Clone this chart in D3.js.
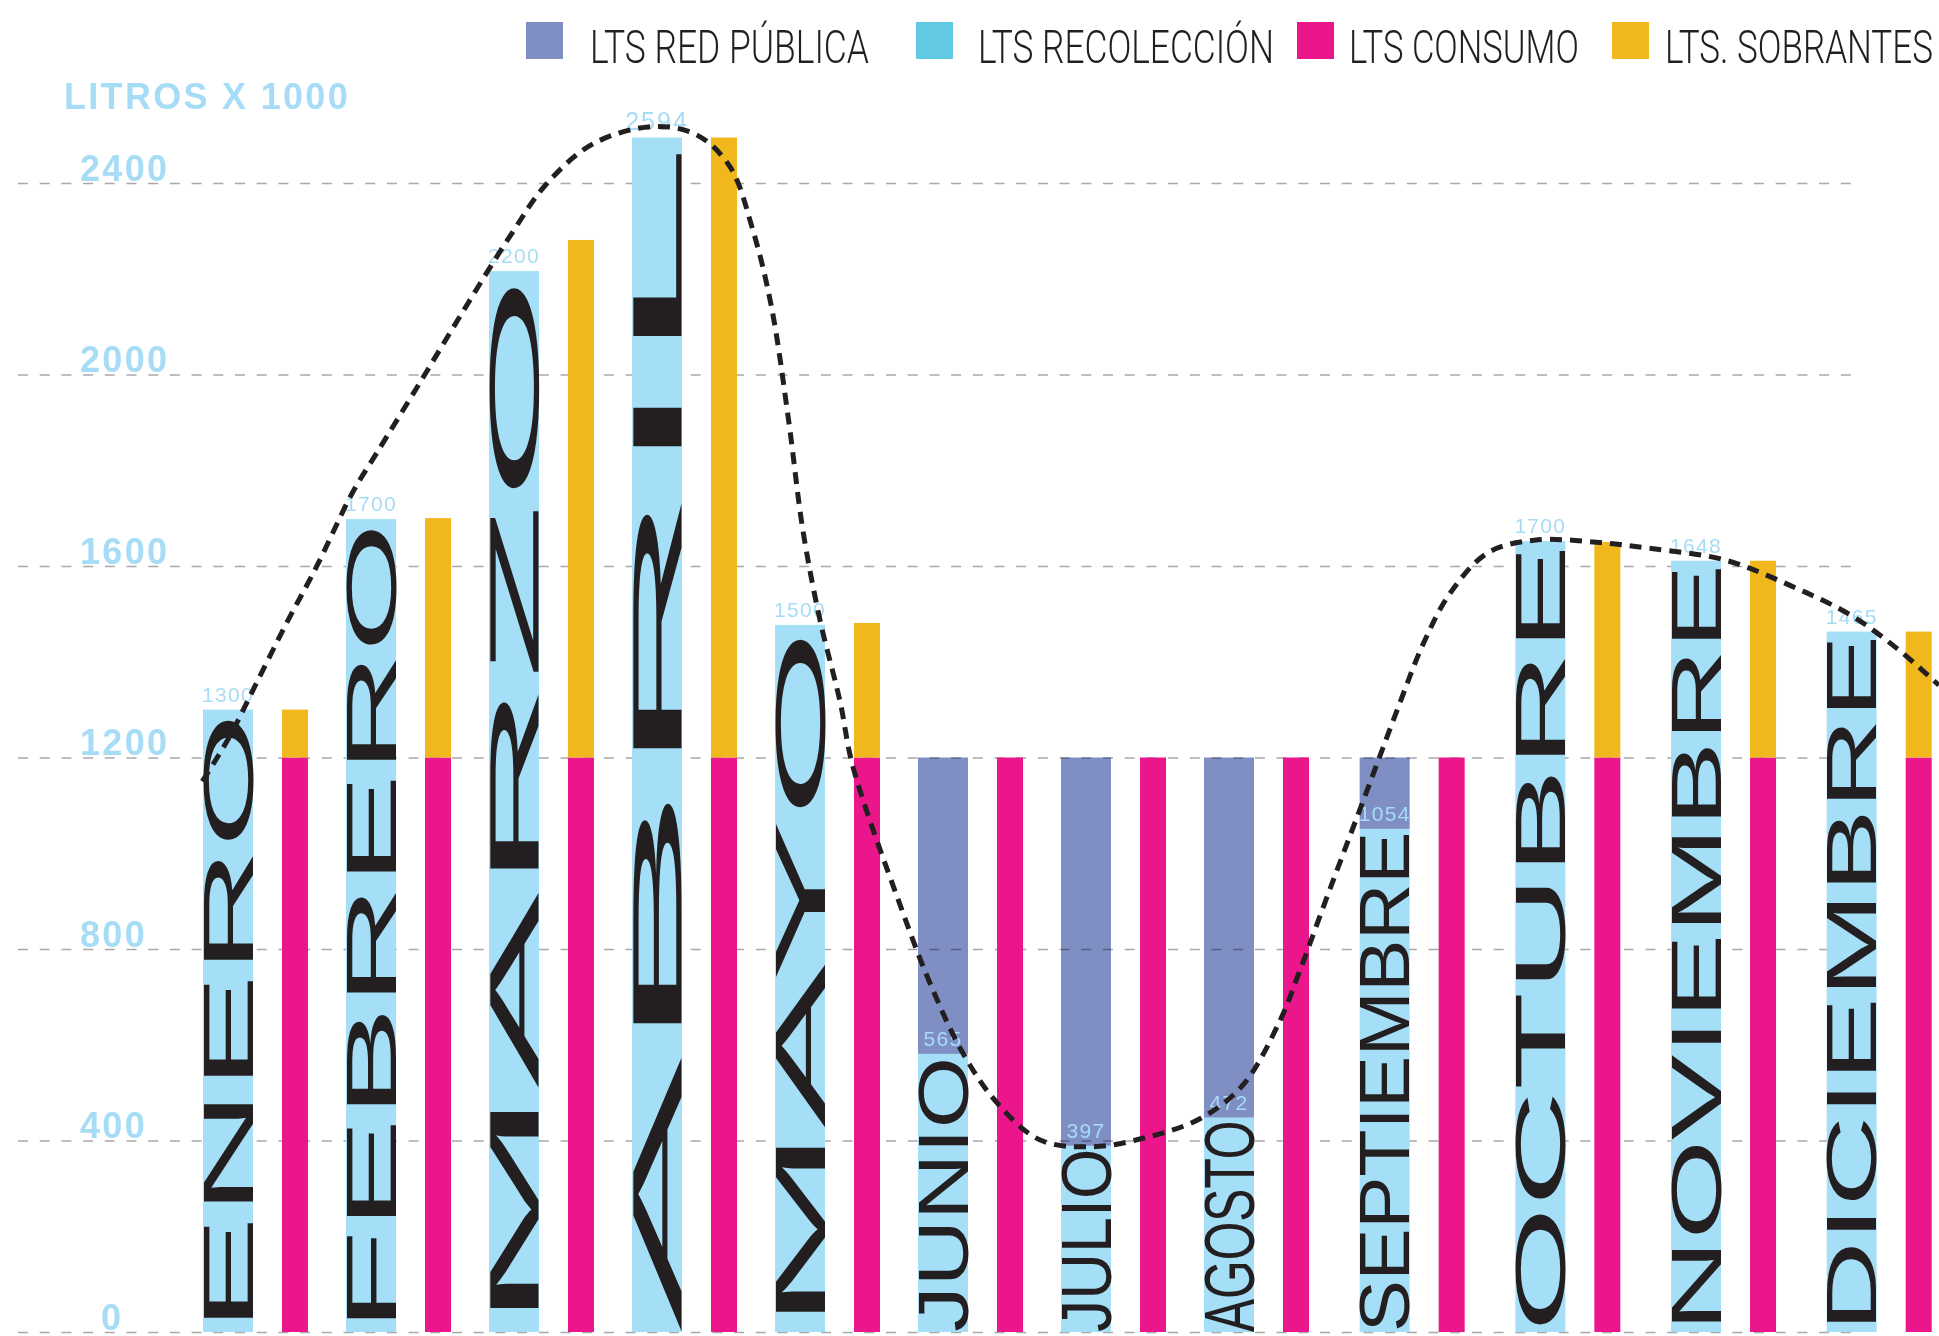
<!DOCTYPE html>
<html>
<head>
<meta charset="utf-8">
<script src="https://cdn.jsdelivr.net/npm/d3@7"></script>
<style>
  html, body { margin: 0; padding: 0; background: #ffffff; }
  svg { display: block; }
</style>
</head>
<body>
<svg id="chart" width="1939" height="1336"></svg>
<script>
// ---------------- DATA ----------------
const meses = ["ENERO","FEBRERO","MARZO","ABRIL","MAYO","JUNIO","JULIO","AGOSTO","SEPTIEMBRE","OCTUBRE","NOVIEMBRE","DICIEMBRE"];
const recoleccion = [1300, 1698, 2216, 2495, 1477, 581, 389, 448, 1051, 1652, 1611, 1463];
const redPublica  = [0, 0, 0, 0, 0, 619, 811, 752, 149, 0, 0, 0];
const consumo     = [1200, 1200, 1200, 1200, 1200, 1200, 1200, 1200, 1200, 1200, 1200, 1200];
const sobrantes   = [100, 500, 1081, 1295, 281, 0, 0, 0, 0, 450, 411, 263];
const etiquetas   = ["1300","1700","2200","2594","1500","565","397","472","1054","1700","1648","1465"];
const ticks       = [0, 400, 800, 1200, 1600, 2000, 2400];
const leyenda     = ["LTS RED PÚBLICA","LTS RECOLECCIÓN","LTS CONSUMO","LTS. SOBRANTES"];
const tituloEje   = "LITROS X 1000";
// curva de tendencia: posición (índice de mes, fraccional) y valor
const tendenciaMes = [-0.18,0.01,0.20,0.41,0.62,0.87,1.04,1.34,1.65,1.97,2.23,2.56,2.98,3.28,3.51,3.67,3.80,3.92,4.02,4.14,4.28,4.37,4.70,4.91,5.14,5.38,5.68,6.05,6.43,6.80,7.09,7.33,7.44,7.67,7.88,8.08,8.25,8.42,8.66,8.96,9.38,9.70,10.18,10.60,10.99,11.29,11.56];
const tendenciaVal = [1150,1243,1356,1481,1599,1753,1836,1982,2135,2288,2399,2483,2518,2500,2434,2302,2142,1905,1675,1487,1317,1181,892,728,582,478,401,387,407,446,516,652,742,944,1125,1299,1439,1543,1627,1654,1649,1637,1613,1560,1498,1428,1351];

// ---------------- STYLE / LAYOUT ----------------
const C = {
  azul: "#a5def7", morado: "#7f8fc3", rosa: "#ec168c", amarillo: "#f0b81c",
  cian: "#62c9e3", texto: "#231f20", etiqueta: "#a6dcf5", grid: "#a9a9a9"
};
const coloresLeyenda = [C.morado, C.cian, C.rosa, C.amarillo];
const blueW = 50, pinkOff = 79, pinkW = 26;

const svg = d3.select("#chart");
const y = d3.scaleLinear().domain([0, 2400]).range([1332, 183]);
const x = d3.scaleLinear().domain([0, 7, 11]).range([203, 1204, 1826.7]); // índice de mes -> borde izq.
const idx = meses.map((m, i) => i);

// ---------------- GRID + Y LABELS ----------------
const gGrid = svg.append("g").attr("transform", "translate(18,0)")
  .call(d3.axisRight(y).tickValues(ticks).tickSize(1844).tickFormat(d => d));
gGrid.select(".domain").remove();
gGrid.selectAll(".tick line")
  .attr("stroke", C.grid).attr("stroke-width", 1.6).attr("stroke-dasharray", "10,11.7");
gGrid.attr("font-family", "'Liberation Sans', Arial, sans-serif")
  .attr("font-size", 36).attr("font-weight", "bold");
gGrid.selectAll(".tick text")
  .attr("fill", C.etiqueta).attr("text-anchor", "start")
  .attr("x", d => d === 0 ? 83 : 62).attr("dy", null).attr("y", -3)
  .style("letter-spacing", "2.3px");

svg.append("text").text(tituloEje)
  .attr("x", 64).attr("y", 109)
  .attr("font-family", "'Liberation Sans', Arial, sans-serif")
  .attr("font-size", 36).attr("font-weight", "bold")
  .style("letter-spacing", "2.3px").attr("fill", C.etiqueta);

// ---------------- BARS ----------------
const gBars = svg.append("g");
// recolección (azul)
gBars.selectAll(".rec").data(idx).join("rect").attr("class", "rec")
  .attr("x", i => x(i)).attr("width", blueW)
  .attr("y", i => y(recoleccion[i])).attr("height", i => y(0) - y(recoleccion[i]))
  .attr("fill", C.azul);
// red pública (morado), apilada sobre recolección
gBars.selectAll(".red").data(idx.filter(i => redPublica[i] > 0)).join("rect").attr("class", "red")
  .attr("x", i => x(i)).attr("width", blueW)
  .attr("y", i => y(recoleccion[i] + redPublica[i]))
  .attr("height", i => y(recoleccion[i]) - y(recoleccion[i] + redPublica[i]))
  .attr("fill", C.morado).style("mix-blend-mode", "multiply");
// consumo (rosa)
gBars.selectAll(".con").data(idx).join("rect").attr("class", "con")
  .attr("x", i => x(i) + pinkOff).attr("width", pinkW)
  .attr("y", i => y(consumo[i])).attr("height", i => y(0) - y(consumo[i]))
  .attr("fill", C.rosa);
// sobrantes (amarillo), apilada sobre consumo
gBars.selectAll(".sob").data(idx.filter(i => sobrantes[i] > 0)).join("rect").attr("class", "sob")
  .attr("x", i => x(i) + pinkOff).attr("width", pinkW)
  .attr("y", i => y(consumo[i] + sobrantes[i]))
  .attr("height", i => y(consumo[i]) - y(consumo[i] + sobrantes[i]))
  .attr("fill", C.amarillo);

// ---------------- MONTH NAMES (stretched inside blue bars) ----------------
svg.append("g").selectAll("text").data(idx).join("text")
  .attr("transform", i => `translate(${x(i) + blueW - 0.5},${y(0)}) rotate(-90)`)
  .attr("x", 0).attr("y", 0)
  .attr("textLength", i => y(0) - y(recoleccion[i]) - 3)
  .attr("lengthAdjust", "spacingAndGlyphs")
  .attr("font-family", "'Liberation Sans', Arial, Helvetica, sans-serif")
  .attr("font-size", 70).attr("fill", C.texto)
  .text(i => meses[i]);

// ---------------- VALUE LABELS ----------------
const maxRec = d3.max(recoleccion);
svg.append("g").selectAll("text").data(idx).join("text")
  .attr("x", i => x(i) + blueW / 2).attr("y", i => y(recoleccion[i]) - 8)
  .attr("text-anchor", "middle")
  .attr("font-family", "'Liberation Sans', Arial, sans-serif")
  .attr("font-size", i => recoleccion[i] === maxRec ? 25 : 21)
  .style("letter-spacing", i => recoleccion[i] === maxRec ? "2px" : "1.3px")
  .attr("fill", C.etiqueta)
  .text(i => etiquetas[i]);

// ---------------- TREND CURVE ----------------
const tendencia = tendenciaMes.map((t, k) => ({ t, v: tendenciaVal[k] }));
const line = d3.line().x(d => x(d.t) + blueW / 2).y(d => y(d.v)).curve(d3.curveCatmullRom.alpha(0.5));
svg.append("path").datum(tendencia).attr("d", line)
  .attr("fill", "none").attr("stroke", C.texto).attr("stroke-width", 5)
  .attr("stroke-dasharray", "12,8");

// ---------------- LEGEND ----------------
const legX = [526, 916, 1297, 1612];   // cuadros
const legTX = [590, 978, 1349, 1665];  // textos
const legTW = [279, 296, 230, 268];    // anchos de texto
const gLeg = svg.append("g");
gLeg.selectAll("rect").data(leyenda).join("rect")
  .attr("x", (d, k) => legX[k]).attr("y", 22).attr("width", 37).attr("height", 37)
  .attr("fill", (d, k) => coloresLeyenda[k]);
gLeg.selectAll("text").data(leyenda).join("text")
  .attr("x", 0).attr("y", 0)
  .attr("font-family", "Roboto, 'Liberation Sans', sans-serif").attr("font-weight", 300)
  .attr("font-size", 46).attr("fill", C.texto)
  .text(d => d)
  .attr("transform", function(d, k) {
    const w = this.getComputedTextLength();
    return `translate(${legTX[k]},63) scale(${legTW[k] / w},1)`;
  });
</script>
</body>
</html>
